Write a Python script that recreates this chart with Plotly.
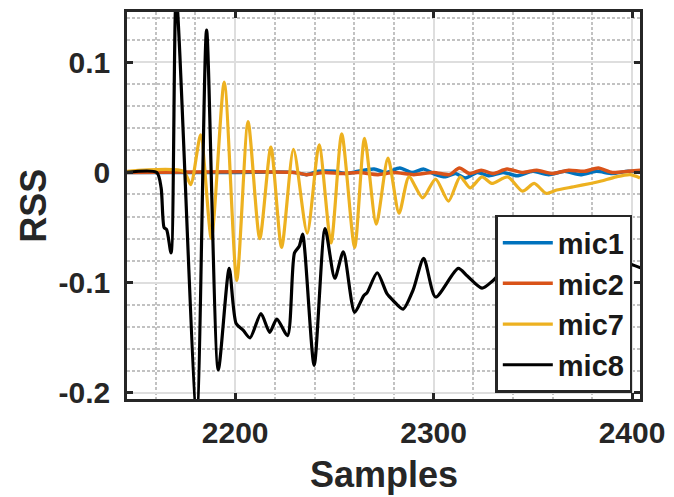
import plotly.graph_objects as go

# ---- data ----
mic1_x = [2145, 2200, 2230, 2236, 2242, 2250, 2256, 2262, 2270, 2276, 2283, 2289, 2295, 2301,
          2306, 2311, 2316, 2322, 2328, 2335, 2342, 2350, 2358, 2366, 2374, 2382, 2390, 2398, 2405]
mic1_y = [0, 0, 0.000, -0.002, 0.001, 0.001, -0.001, 0.001, 0.003, 0.000, 0.004, 0.000, 0.003, -0.002,
          -0.004, -0.001, -0.005, 0.000, -0.003, 0.000, -0.003, 0.001, -0.002, 0.001, -0.002, 0.001,
          -0.001, 0.001, 0.000]

mic2_x = [2145, 2230, 2236, 2245, 2254, 2262, 2272, 2280, 2290, 2300, 2308, 2313, 2318, 2324,
          2330, 2337, 2345, 2352, 2360, 2368, 2376, 2383, 2390, 2398, 2405]
mic2_y = [0, 0, -0.002, 0.000, -0.001, 0.000, -0.002, 0.000, -0.002, 0.000, -0.002, 0.004, -0.001,
          0.002, -0.001, 0.003, 0.000, 0.002, -0.001, 0.002, 0.001, 0.004, 0.000, 0.001, 0.002]

mic7_x = [2145, 2174, 2177.6, 2182.6, 2188, 2194.5, 2200.8, 2206.5, 2212.4, 2218, 2223.4, 2229.4,
          2236.3, 2242.3, 2248.3, 2253.7, 2260.2, 2265.2, 2271.1, 2277, 2282.6, 2287.6, 2294.5,
          2301, 2307.5, 2313.4, 2318.4, 2324.4, 2329.3, 2337.3, 2344.8, 2350.7, 2356.7, 2362,
          2370.6, 2379, 2384, 2392, 2399, 2404]
mic7_y = [0.001, 0.001, -0.011, 0.034, -0.060, 0.082, -0.098, 0.046, -0.060, 0.023, -0.068, 0.021,
          -0.055, 0.025, -0.064, 0.035, -0.068, 0.031, -0.047, 0.013, -0.037, -0.004, -0.023,
          -0.006, -0.026, -0.004, -0.014, -0.004, -0.010, -0.004, -0.017, -0.010, -0.019, -0.016,
          -0.013, -0.010, -0.008, -0.004, -0.002, -0.005]

mic8_x = [2145, 2160.5, 2162.7, 2164.2, 2165.5, 2167.7, 2170.3, 2180.6, 2185.6, 2191.5, 2197,
          2200.5, 2204, 2207.5, 2213, 2217.4, 2221, 2226.4, 2229.9, 2232.3, 2234, 2239.8, 2245.3,
          2250.2, 2254.5, 2260.2, 2264.7, 2266.5, 2271.6, 2276.5, 2279.5, 2284.6, 2289.6, 2295,
          2301, 2312.4, 2317, 2324.4, 2330, 2338, 2345, 2352, 2360, 2368, 2376, 2384, 2392, 2397, 2405]
mic8_y = [0, 0, -0.014, -0.050, -0.052, -0.073, 0.160, -0.220, 0.129, -0.179, -0.087,
          -0.137, -0.143, -0.150, -0.128, -0.145, -0.133, -0.148, -0.073, -0.067, -0.056, -0.175,
          -0.051, -0.096, -0.072, -0.127, -0.112, -0.109, -0.091, -0.110, -0.116, -0.124, -0.107,
          -0.078, -0.113, -0.087, -0.094, -0.105, -0.098, -0.085, -0.100, -0.088, -0.095, -0.082,
          -0.092, -0.084, -0.080, -0.082, -0.087]

series_names = ["mic1", "mic2", "mic7", "mic8"]
series_colors = ["#0072BD", "#D95319", "#EDB120", "#000000"]

x_tickvals = [2200, 2300, 2400]
x_ticktext = ["2200", "2300", "2400"]
y_tickvals = [-0.2, -0.1, 0, 0.1]
y_ticktext = ["-0.2", "-0.1", "0", "0.1"]
x_title = "Samples"
y_title = "RSS"

FONT = "Liberation Sans"

fig = go.Figure()
xs = [mic1_x, mic2_x, mic7_x, mic8_x]
ys = [mic1_y, mic2_y, mic7_y, mic8_y]
widths = [3.5, 3.5, 3.2, 3.2]
for name, color, x, y, w in zip(series_names, series_colors, xs, ys, widths):
    fig.add_trace(go.Scatter(x=x, y=y, mode="lines", name=name,
                             line=dict(color=color, width=w, shape="spline", smoothing=0.7)))

axis_common = dict(
    showline=True, mirror="allticks", linecolor="#262626", linewidth=2.5,
    ticks="inside", ticklen=6, tickwidth=2.5, tickcolor="#262626",
    showgrid=True, gridcolor="#dedede", gridwidth=2,
    zeroline=False,
    tickfont=dict(family=FONT, size=30, color="#262626", weight="bold"),
)

minor_common = dict(showgrid=True, gridcolor="#c2c2c2", griddash="3px,2px", gridwidth=2, ticks="")

fig.update_xaxes(
    range=[2145.5, 2404], tickmode="array", tickvals=x_tickvals, ticktext=x_ticktext,
    minor=dict(dtick=20, tick0=2140, **minor_common),
    ticklabelstandoff=5,
    **axis_common,
)
fig.update_yaxes(
    range=[-0.2055, 0.1455], tickmode="array", tickvals=y_tickvals, ticktext=y_ticktext,
    minor=dict(dtick=0.02, tick0=0, **minor_common),
    ticklabelstandoff=8,
    **axis_common,
)

title_font = dict(family=FONT, size=36, color="#262626", weight="bold")
fig.add_annotation(text=x_title, xref="paper", yref="paper", x=0.5, y=-0.195,
                   xanchor="center", yanchor="middle", showarrow=False, font=title_font)
fig.add_annotation(text=y_title, xref="paper", yref="paper", x=-0.1827, y=0.5,
                   xanchor="center", yanchor="middle", showarrow=False, textangle=-90,
                   font=title_font)

fig.update_layout(
    width=674, height=497,
    margin=dict(l=127, r=27, t=9, b=98),
    plot_bgcolor="white", paper_bgcolor="white",
    showlegend=True,
    legend=dict(
        x=0.985, y=0.246, xanchor="right", yanchor="middle",
        bgcolor="white", bordercolor="#262626", borderwidth=2.5,
        font=dict(family=FONT, size=29, color="#1a1a1a", weight="bold"),
        tracegroupgap=0, itemwidth=50,
    ),
)

fig.write_html("out.html")
